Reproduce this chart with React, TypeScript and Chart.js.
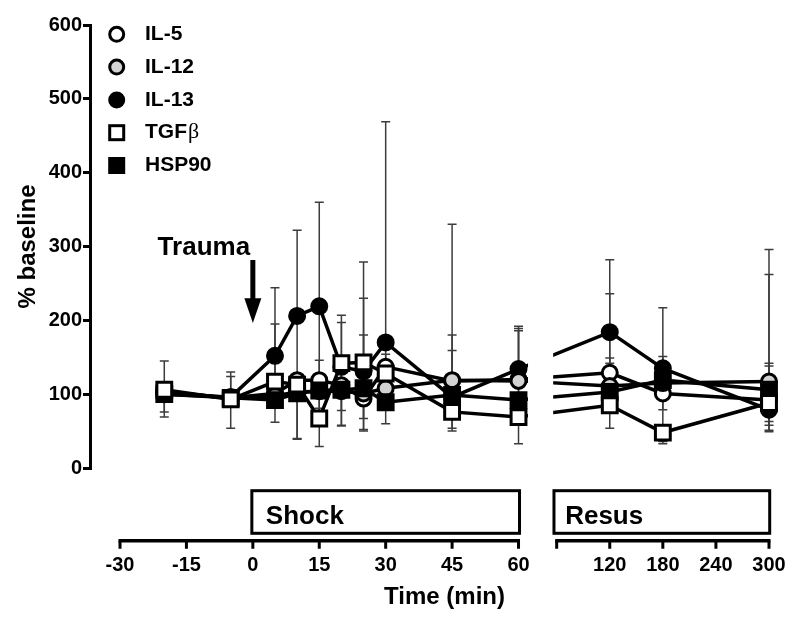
import React, { useEffect, useRef } from 'react';
import { Chart, LinearScale, registerables } from 'chart.js';

const FONT = '"Liberation Sans", Arial, Helvetica, sans-serif';

// ---- data ----
const TIMES = [-20, -5, 5, 10, 15, 20, 25, 30, 45, 60, 120, 180, 300];
const X_TICKS = [-30, -15, 0, 15, 30, 45, 60, 120, 180, 240, 300];
const Y_MIN = 0;
const Y_MAX = 600;
const Y_STEP = 100;

const LABELS = ['IL-5', 'IL-12', 'IL-13', 'TGFβ', 'HSP90'];

const IL5 = [103, 95, 101, 119, 119, 112, 94, 137, 118, 120, 129, 101, 92];
const IL12 = [104, 94, 98, 103, 104, 104, 101, 108, 119, 118, 111, 115, 117];
const IL13 = [100, 96, 152, 206, 219, 137, 131, 170, 96, 134, 184, 135, 79];
const TGFB = [106, 93, 117, 113, 67, 142, 143, 128, 76, 69, 85, 48, 88];
const HSP90 = [100, 95, 92, 101, 105, 106, 108, 89, 99, 92, 103, 119, 106];

// error bar ends (absolute values), null = none visible
const IL5_HI = [null, null, null, null, null, null, 180, 154, 159, null, 149, 151, null];
const IL5_LO = [null, null, null, null, null, 78, null, null, null, null, null, 79, 58];
const IL12_HI = [null, 124, null, null, null, null, null, null, null, 189, 142, 144, 142];
const IL12_LO = [null, null, null, null, null, null, 52, null, null, null, null, null, 63];
const IL13_HI = [145, 130, 244, 322, 360, 207, 279, 469, 330, 192, 282, 217, 296];
const IL13_LO = [69, 54, 62, 40, 29, 57, 50, 60, 50, 33, 54, 36, 51];
const TGFB_HI = [null, null, 195, null, 146, 197, 230, null, 180, 186, 236, null, 262];
const TGFB_LO = [76, null, null, 39, 81, 58, 67, null, 54, null, null, 33, 49];
const HSP90_HI = [null, null, null, null, null, null, null, null, null, null, null, null, 138];
const HSP90_LO = [null, null, null, null, null, null, null, null, null, null, null, null, null];

// ---- broken x scale ----
class BrokenScale extends LinearScale {
  static id = 'broken';
  static defaults = {};
  buildTicks() {
    const vals = (this.options as any).tickValues as number[];
    return vals.map((v) => ({ value: v }));
  }
  _seg(value: number) {
    const segs = (this.options as any).segments as any[];
    for (let i = 0; i < segs.length; i++) {
      if (value <= segs[i].max) return segs[i];
    }
    return segs[segs.length - 1];
  }
  getPixelForValue(value: number) {
    const s = this._seg(value);
    const frac = s.from + ((value - s.min) / (s.max - s.min)) * (s.to - s.from);
    return this.getPixelForDecimal(frac);
  }
  getValueForPixel(pixel: number) {
    const d = this.getDecimalForPixel(pixel);
    const segs = (this.options as any).segments as any[];
    for (const s of segs) {
      if (d <= s.to) return s.min + ((d - s.from) / (s.to - s.from)) * (s.max - s.min);
    }
    return segs[segs.length - 1].max;
  }
}

Chart.register(...registerables, BrokenScale as any);

const SEGMENTS = [
  { min: -30, max: 60, from: 0.0442, to: 0.6311 },
  { min: 60, max: 300, from: 0.6873, to: 1.0 },
];

const errorBarPlugin = {
  id: 'errorBars',
  beforeDatasetsDraw(chart: any) {
    const { ctx } = chart;
    const x = chart.scales.x;
    const y = chart.scales.y;
    ctx.save();
    ctx.strokeStyle = '#3c3c3c';
    ctx.lineWidth = 1.5;
    chart.data.datasets.forEach((ds: any) => {
      ds.data.forEach((pt: any, i: number) => {
        const px = x.getPixelForValue(pt.x);
        const py = y.getPixelForValue(pt.y);
        [ds.errHi?.[i], ds.errLo?.[i]].forEach((v: any) => {
          if (v == null) return;
          const ey = y.getPixelForValue(v);
          ctx.beginPath();
          ctx.moveTo(px, py);
          ctx.lineTo(px, ey);
          ctx.moveTo(px - 4.5, ey);
          ctx.lineTo(px + 4.5, ey);
          ctx.stroke();
        });
      });
    });
    ctx.restore();
  },
};

const decorPlugin = {
  id: 'decor',
  afterDatasetsDraw(chart: any) {
    const { ctx, chartArea } = chart;
    const x = chart.scales.x;
    const y = chart.scales.y;
    const segs = SEGMENTS;
    const rightStart = x.getPixelForDecimal(segs[1].from);
    const p60 = x.getPixelForValue(60);
    ctx.save();

    // blank the break
    ctx.fillStyle = '#fff';
    ctx.fillRect(p60 + 9.5, chartArea.top - 20, rightStart - 3.5 - (p60 + 9.5), chartArea.bottom - chartArea.top + 20);

    // x axis lines
    const axisY = chartArea.bottom + 72.7;
    ctx.strokeStyle = '#000';
    ctx.lineWidth = 3.5;
    ctx.lineCap = 'butt';
    ctx.beginPath();
    ctx.moveTo(x.getPixelForValue(-30) - 1.5, axisY);
    ctx.lineTo(p60 + 1.5, axisY);
    ctx.moveTo(rightStart - 1.5, axisY);
    ctx.lineTo(x.getPixelForValue(300) + 1.5, axisY);
    ctx.stroke();
    ctx.lineWidth = 3;
    ctx.beginPath();
    X_TICKS.forEach((t) => {
      const px = x.getPixelForValue(t);
      ctx.moveTo(px, axisY);
      ctx.lineTo(px, axisY + 8);
    });
    ctx.moveTo(rightStart, axisY);
    ctx.lineTo(rightStart, axisY + 8);
    ctx.stroke();

    // phase boxes
    const boxTop = axisY - 50;
    const boxBot = axisY - 7.4;
    ctx.lineWidth = 3;
    ctx.strokeRect(x.getPixelForValue(0) - 1, boxTop, p60 - x.getPixelForValue(0) + 2, boxBot - boxTop);
    ctx.strokeRect(rightStart - 2.7, boxTop, x.getPixelForValue(300) - rightStart + 3.4, boxBot - boxTop);
    ctx.fillStyle = '#000';
    ctx.font = `bold 26px ${FONT}`;
    ctx.textAlign = 'left';
    ctx.textBaseline = 'alphabetic';
    ctx.fillText('Shock', x.getPixelForValue(0) + 13, boxBot - 9);
    ctx.fillText('Resus', rightStart + 8.5, boxBot - 9);

    // x axis title
    ctx.font = `bold 24px ${FONT}`;
    ctx.textAlign = 'center';
    ctx.fillText('Time (min)', (x.getPixelForValue(-30) + x.getPixelForValue(300)) / 2, axisY + 63.7);

    // Trauma annotation
    const p0 = x.getPixelForValue(0);
    ctx.font = `bold 26px ${FONT}`;
    ctx.textAlign = 'center';
    ctx.fillText('Trauma', p0 - 49, y.getPixelForValue(288.5));
    const shaftTop = y.getPixelForValue(281.7);
    const headTop = y.getPixelForValue(230);
    const tip = y.getPixelForValue(196.4);
    ctx.fillRect(p0 - 2.5, shaftTop, 5, headTop - shaftTop + 1);
    ctx.beginPath();
    ctx.moveTo(p0 - 8.5, headTop);
    ctx.lineTo(p0 + 8.5, headTop);
    ctx.lineTo(p0, tip);
    ctx.closePath();
    ctx.fill();

    // legend
    const lx = chartArea.left + 26.7;
    const tx = chartArea.left + 55;
    chart.data.datasets.forEach((ds: any, i: number) => {
      const ly = chartArea.top + 9.3 + i * 32.8;
      ctx.lineWidth = 3;
      ctx.strokeStyle = '#000';
      ctx.fillStyle = ds.pointBackgroundColor;
      if (ds.pointStyle === 'circle') {
        ctx.beginPath();
        ctx.arc(lx, ly, 7, 0, Math.PI * 2);
        ctx.fill();
        ctx.stroke();
      } else {
        ctx.fillRect(lx - 7, ly - 7, 14, 14);
        ctx.strokeRect(lx - 7, ly - 7, 14, 14);
      }
      ctx.fillStyle = '#000';
      ctx.textAlign = 'left';
      ctx.textBaseline = 'middle';
      const label: string = ds.label;
      if (label.endsWith('β')) {
        const head = label.slice(0, -1);
        ctx.font = `bold 21px ${FONT}`;
        ctx.fillText(head, tx, ly);
        const w = ctx.measureText(head).width;
        ctx.font = `22px "Liberation Serif", "DejaVu Serif", serif`;
        ctx.fillText('β', tx + w + 1, ly);
      } else {
        ctx.font = `bold 21px ${FONT}`;
        ctx.fillText(label, tx, ly);
      }
    });

    ctx.restore();
  },
};

function makeDataset(label: string, vals: number[], hi: any[], lo: any[], style: string, fill: string, order: number) {
  const isRect = style === 'rect';
  return {
    label,
    data: TIMES.map((t, i) => ({ x: t, y: vals[i] })),
    errHi: hi,
    errLo: lo,
    borderColor: '#000',
    borderWidth: 3.5,
    pointStyle: style,
    pointRadius: isRect ? 10.5 : 7.5,
    pointHoverRadius: isRect ? 10.5 : 7.5,
    pointBorderWidth: 3,
    pointBackgroundColor: fill,
    pointBorderColor: '#000',
    tension: 0,
    fill: false,
    clip: false,
    order,
  };
}

export default function App() {
  const ref = useRef<HTMLCanvasElement | null>(null);
  useEffect(() => {
    if (!ref.current) return;
    const chart = new Chart(ref.current, {
      type: 'line',
      data: {
        datasets: [
          makeDataset(LABELS[0], IL5, IL5_HI, IL5_LO, 'circle', '#ffffff', 4),
          makeDataset(LABELS[1], IL12, IL12_HI, IL12_LO, 'circle', '#d3d3d3', 2),
          makeDataset(LABELS[2], IL13, IL13_HI, IL13_LO, 'circle', '#000000', 3),
          makeDataset(LABELS[3], TGFB, TGFB_HI, TGFB_LO, 'rect', '#ffffff', 0),
          makeDataset(LABELS[4], HSP90, HSP90_HI, HSP90_LO, 'rect', '#000000', 1),
        ] as any,
      },
      options: {
        responsive: false,
        animation: false,
        events: [],
        layout: { padding: { top: 25, right: 31, bottom: 0, left: 0 } },
        plugins: { legend: { display: false }, tooltip: { enabled: false }, title: { display: false } },
        scales: {
          x: {
            type: 'broken' as any,
            min: -30,
            max: 300,
            tickValues: X_TICKS,
            segments: SEGMENTS,
            grid: { display: false, drawTicks: true, tickLength: 85 },
            border: { display: false },
            ticks: {
              autoSkip: false,
              maxRotation: 0,
              padding: 0,
              color: '#000',
              font: { family: FONT, size: 20, weight: 'bold' },
              callback: (v: any) => String(v),
            },
            afterFit: (s: any) => {
              s.height = 150;
            },
          } as any,
          y: {
            min: Y_MIN,
            max: Y_MAX,
            ticks: {
              stepSize: Y_STEP,
              color: '#000',
              padding: 1,
              font: { family: FONT, size: 20, weight: 'bold' },
            },
            grid: { drawOnChartArea: false, drawTicks: true, tickLength: 7, color: '#000', lineWidth: 3 },
            border: { display: true, color: '#000', width: 3 },
            title: {
              display: true,
              text: '% baseline',
              color: '#000',
              font: { family: FONT, size: 24, weight: 'bold' },
              padding: { top: 14, bottom: 0 },
            },
            afterFit: (s: any) => {
              s.width = 90;
            },
          },
        },
      } as any,
      plugins: [errorBarPlugin, decorPlugin],
    });
    return () => chart.destroy();
  }, []);
  return (
    <div style={{ position: 'fixed', left: 0, top: 0, width: 800, height: 618, background: '#fff' }}>
      <canvas ref={ref} width={800} height={618} style={{ display: 'block' }} />
    </div>
  );
}
